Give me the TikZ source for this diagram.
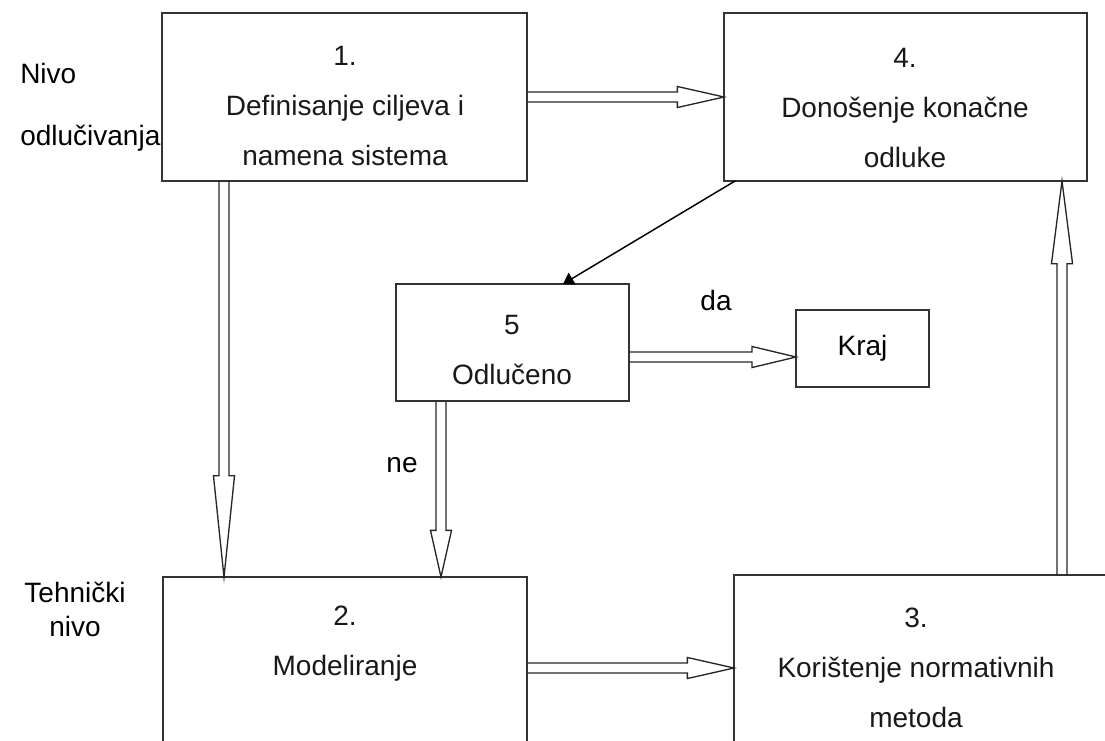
\documentclass[tikz,border=0pt]{standalone}
\usepackage{fontspec}
\setmainfont{Liberation Sans}
\usetikzlibrary{calc,fit,arrows.meta}
\tikzset{
  dbl/.style={draw=black!85, line width=1pt, to path={
    ($(\tikztostart)!3.75pt!90:(\tikztotarget)$)
    -- ($($(\tikztotarget)!#1!(\tikztostart)$)!3.75pt!90:(\tikztotarget)$)
    -- ($($(\tikztotarget)!#1!(\tikztostart)$)!7.9pt!90:(\tikztotarget)$)
    -- (\tikztotarget)
    -- ($($(\tikztotarget)!#1!(\tikztostart)$)!7.9pt!-90:(\tikztotarget)$)
    -- ($($(\tikztotarget)!#1!(\tikztostart)$)!3.75pt!-90:(\tikztotarget)$)
    -- ($(\tikztostart)!3.75pt!-90:(\tikztotarget)$)
  }}
}
\def\boxnode{\node[draw=black!80,line width=1.1pt,inner sep=0pt,outer sep=0pt]}
\def\txtnode{\node[align=center,inner sep=0pt,text=black!90]}
\def\drawdbl{\draw[dbl=35pt]}

\begin{document}
\begin{tikzpicture}[x=0.75pt,y=-0.75pt,font=\fontsize{21}{37.5}\selectfont]
\path[use as bounding box,clip] (0,0) rectangle (1105,740);
\node[align=left,inner sep=0pt,anchor=north west,font=\fontsize{21}{46.5}\selectfont] (lvl1) at (20,63) {Nivo\\odlučivanja};
\node[align=center,inner sep=0pt,anchor=north,font=\fontsize{21}{25}\selectfont] (lvl2) at (75,582) {Tehnički\\nivo};
\boxnode[fit={(162,13) (527,181)}] (b1) {};
\boxnode[fit={(724,13) (1087,181)}] (b4) {};
\boxnode[fit={(396,284) (629,401)}] (b5) {};
\boxnode[fit={(796,310) (929,387)}] (kraj) {};
\node (krajt) at (kraj.center) {Kraj};
\boxnode[fit={(163,577) (527,800)}] (b2) {};
\boxnode[fit={(734,575) (1160,800)}] (b3) {};
\txtnode (b1t) at (345,106) {1.\\Definisanje ciljeva i\\namena sistema};
\txtnode (b4t) at (905,108) {4.\\Donošenje konačne\\odluke};
\txtnode (b5t) at (512,350) {5\\Odlučeno};
\txtnode (b2t) at (345,644) {2.\\Modeliranje};
\txtnode (b3t) at (916,668) {3.\\Korištenje normativnih\\metoda};
\node (da) at (716,300) {da};
\node (ne) at (402,465) {ne};
% double arrows
\coordinate (s12) at ($(b1.south west)+(62,0)$);
\coordinate (e12) at (s12 |- b2.north);
\coordinate (s52) at ($(b5.south west)+(45,0)$);
\coordinate (e52) at (s52 |- b2.north);
\coordinate (s5k) at ($(b5.east)+(0,14.5)$);
\coordinate (e5k) at (s5k -| kraj.west);
\coordinate (s23) at ($(b2.north east)+(0,91)$);
\coordinate (e23) at (s23 -| b3.west);
\coordinate (s34) at ($(b3.north west)+(328,0)$);
\coordinate (e34) at (s34 |- b4.south);
\drawdbl (b1.east) to (b4.west);
\draw[dbl=76pt] (s12) to (e12);
\drawdbl (s52) to (e52);
\draw[dbl=33pt] (s5k) to (e5k);
\drawdbl (s23) to (e23);
\draw[dbl=62pt] (s34) to (e34);
% decision arrow
\coordinate (d4) at ($(b4.south west)+(11,0)$);
\coordinate (d5) at ($(b5.north west)+(167,0)$);
\draw[line width=1.1pt,-{Triangle[length=8pt,width=10pt]}] (d4) -- (d5);
\end{tikzpicture}
\end{document}
